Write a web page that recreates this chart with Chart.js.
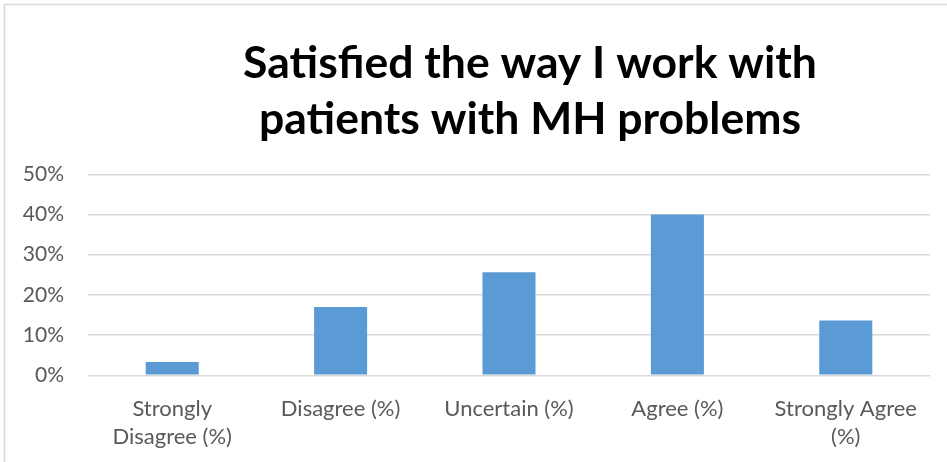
<!DOCTYPE html>
<html>
<head>
<meta charset="utf-8">
<script src="https://cdn.jsdelivr.net/npm/chart.js@4/dist/chart.umd.min.js"></script>
<style>
  html, body { margin: 0; padding: 0; background: #ffffff; overflow: hidden; width: 947px; height: 462px; }
  #wrap { position: absolute; left: 0; top: 0; width: 1060px; height: 462px; }
  canvas { display: block; }
</style>
</head>
<body>
<div id="wrap"><canvas id="c" width="1060" height="462" style="width:1060px;height:462px"></canvas></div>
<script>
// ---- data ----
const categories = [["Strongly", "Disagree (%)"], "Disagree (%)", "Uncertain (%)", "Agree (%)", ["Strongly Agree", "(%)"]];
const percentValues = [3.3, 17.0, 25.6, 40.0, 13.6];
const yTickMax = 50;
const yTickStep = 10;
const titleLines = ["Satisfied the way I work with", "patients with MH problems"];

const frame = {
  id: 'frame',
  beforeDraw(chart) {
    const ctx = chart.ctx;
    ctx.save();
    ctx.fillStyle = '#ffffff';
    ctx.fillRect(0, 0, chart.width, chart.height);
    ctx.strokeStyle = '#d9d9d9';
    ctx.lineWidth = 1.5;
    ctx.beginPath();
    ctx.moveTo(4.5, chart.height + 5);
    ctx.lineTo(4.5, 4.5);
    ctx.lineTo(chart.width + 5, 4.5);
    ctx.stroke();
    ctx.restore();
  }
};

new Chart(document.getElementById('c'), {
  type: 'bar',
  data: {
    labels: categories,
    datasets: [{
      data: percentValues,
      backgroundColor: '#5b9bd5',
      borderWidth: 0,
      barPercentage: 0.315,
      categoryPercentage: 1.0
    }]
  },
  options: {
    responsive: false,
    devicePixelRatio: 1,
    animation: false,
    layout: { padding: 0 },
    plugins: {
      legend: { display: false },
      tooltip: { enabled: false },
      title: {
        display: true,
        text: titleLines,
        color: '#000000',
        font: { family: 'Lato', size: 44.5, weight: 'bold', lineHeight: 1.25 },
        padding: { top: 36, bottom: 27 }
      }
    },
    scales: {
      x: {
        grid: { display: false },
        border: { display: false },
        ticks: {
          color: '#595959',
          font: { family: 'Lato', size: 22, lineHeight: 1.3 },
          padding: 11,
          maxRotation: 0,
          autoSkip: false
        },
        afterFit(scale) { scale.height = 86.7; }
      },
      y: {
        min: 0,
        max: yTickMax,
        grid: { color: '#d9d9d9', lineWidth: 1.5, drawTicks: false },
        border: { display: false },
        ticks: {
          stepSize: yTickStep,
          color: '#595959',
          font: { family: 'Lato', size: 21 },
          padding: 24,
          callback: v => v + '%'
        },
        afterFit(scale) { scale.width = 88; }
      },
      yRight: {
        position: 'right',
        display: true,
        grid: { display: false },
        border: { display: false },
        ticks: { display: false },
        afterFit(scale) { scale.width = 130; }
      }
    }
  },
  plugins: [frame]
});
</script>
</body>
</html>
